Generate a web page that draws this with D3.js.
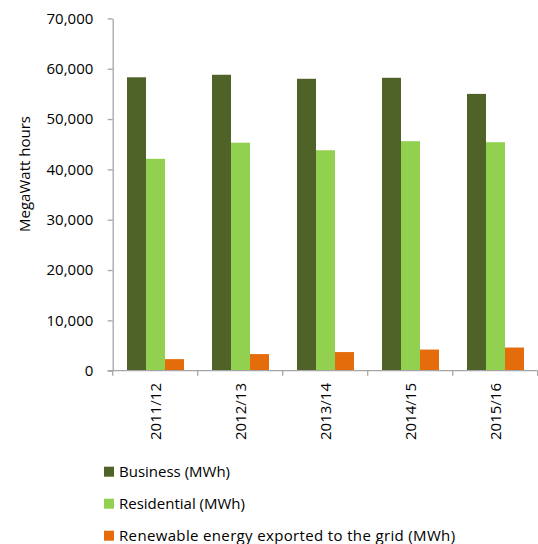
<!DOCTYPE html>
<html><head><meta charset="utf-8">
<script src="https://cdn.jsdelivr.net/npm/d3@7"></script>
<style>body{margin:0;background:#fff}svg{display:block}text{font-family:"Open Sans","Liberation Sans",Arial,sans-serif;fill:#000}</style>
</head><body>
<svg id="c" width="538" height="544"></svg>
<script>
const categories = ["2011/12","2012/13","2013/14","2014/15","2015/16"];
const seriesNames = ["Business (MWh)","Residential (MWh)","Renewable energy exported to the grid (MWh)"];
const business = [58300, 58800, 58000, 58200, 55000];
const residential = [42100, 45300, 43800, 45600, 45400];
const renewable = [2300, 3300, 3700, 4200, 4600];
const yTicks = [0,10000,20000,30000,40000,50000,60000,70000];
const colors = ["#4F6228","#92D050","#E46C0A"];
const seriesValues = [business, residential, renewable];

(function(){
const svg = d3.select("#c");
const pLeft = 112.7, pRight = 537.7, pTop = 18.4, pBottom = 370.7;
const x = d3.scaleBand().domain(categories).range([pLeft, pRight]).paddingInner(0).paddingOuter(0);
const x1 = d3.scaleBand().domain(d3.range(3)).range([14.3, 85-13.7]).padding(0);
const y = d3.scaleLinear().domain([0,70000]).range([pBottom, pTop]);
const axisColor = "#A6A6A6";

const g = svg.append("g");
categories.forEach((c,i)=>{
  seriesValues.forEach((vals,s)=>{
    g.append("rect")
      .attr("x", x(c)+x1(s)).attr("width", x1.bandwidth())
      .attr("y", y(vals[i])).attr("height", y(0)-y(vals[i]))
      .attr("fill", colors[s]);
  });
});

const fmt = d3.format(",");
const ya = svg.append("g").attr("transform",`translate(${pLeft},0)`)
  .call(d3.axisLeft(y).tickValues(yTicks).tickSize(5).tickSizeOuter(0).tickPadding(14.4).tickFormat(fmt));
ya.select(".domain").attr("stroke", axisColor).attr("stroke-width",1.3);
ya.selectAll(".tick line").attr("stroke", axisColor).attr("stroke-width",1.3);
ya.selectAll(".tick text").style("font-size","15px").attr("fill","#000").attr("font-family",null);

const xa = svg.append("g").attr("transform",`translate(0,${pBottom})`);
xa.append("line").attr("x1",pLeft-5).attr("x2",pRight).attr("y1",0).attr("y2",0).attr("stroke",axisColor).attr("stroke-width",1.3);
const bounds = categories.map(c=>x(c)).concat([pRight]);
xa.selectAll("line.t").data(bounds).join("line").attr("class","t")
  .attr("x1",d=>d).attr("x2",d=>d).attr("y1",0).attr("y2",5).attr("stroke",axisColor).attr("stroke-width",1.3);
xa.selectAll("text").data(categories).join("text")
  .attr("transform",d=>`translate(${x(d)+x.bandwidth()/2+5.8},12.3) rotate(-90)`)
  .attr("text-anchor","end").style("font-size","15px").text(d=>d);

svg.append("text").attr("transform","translate(30,174) rotate(-90)").attr("text-anchor","middle")
  .style("font-size","15px").text("MegaWatt hours");

const leg = svg.append("g");
seriesNames.forEach((n,i)=>{
  const cy = 471.7 + i*32;
  leg.append("rect").attr("x",104).attr("y",cy-5).attr("width",10).attr("height",10).attr("fill",colors[i]);
  leg.append("text").attr("x",119).attr("y",cy+5).style("font-size","15px").style("letter-spacing", i===2?"0.35px":null).text(n);
});
})();
</script>
</body></html>
